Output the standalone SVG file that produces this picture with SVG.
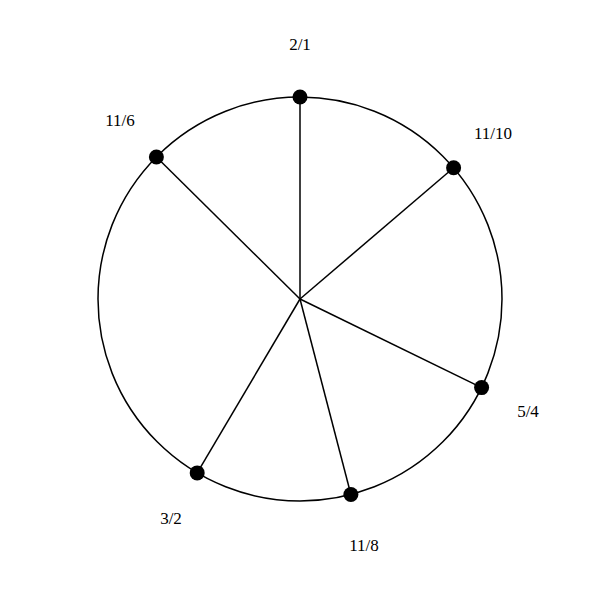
<svg xmlns="http://www.w3.org/2000/svg" width="600" height="600" viewBox="0 0 600 600">
<style>
.ring{fill:none;stroke:#000;stroke-width:1.5}
.spoke{stroke:#000;stroke-width:1.5}
.dot{fill:#000}
.lbl{font-family:"Liberation Serif","Times New Roman",serif;font-size:17px;fill:#000;text-anchor:middle;dominant-baseline:central}
</style>
<rect width="600" height="600" fill="#fff"/>
<circle class="ring" cx="300" cy="299" r="202"/>
<g id="connectors">
<line class="spoke" x1="300" y1="299" x2="300" y2="97"/>
<line class="spoke" x1="300" y1="299" x2="453.6" y2="167.8"/>
<line class="spoke" x1="300" y1="299" x2="481.6" y2="387.6"/>
<line class="spoke" x1="300" y1="299" x2="350.9" y2="494.5"/>
<line class="spoke" x1="300" y1="299" x2="197.2" y2="472.9"/>
<line class="spoke" x1="300" y1="299" x2="156.4" y2="157.0"/>
</g>
<g id="n21"><circle class="dot" cx="300" cy="97" r="7.5"/><text class="lbl" x="300" y="44">2/1</text></g>
<g id="n1110"><circle class="dot" cx="453.6" cy="167.8" r="7.5"/><text class="lbl" x="493" y="133">11/10</text></g>
<g id="n54"><circle class="dot" cx="481.6" cy="387.6" r="7.5"/><text class="lbl" x="528" y="411">5/4</text></g>
<g id="n118"><circle class="dot" cx="350.9" cy="494.5" r="7.5"/><text class="lbl" x="364" y="545">11/8</text></g>
<g id="n32"><circle class="dot" cx="197.2" cy="472.9" r="7.5"/><text class="lbl" x="171" y="518">3/2</text></g>
<g id="n116"><circle class="dot" cx="156.4" cy="157.0" r="7.5"/><text class="lbl" x="120" y="120">11/6</text></g>
</svg>
